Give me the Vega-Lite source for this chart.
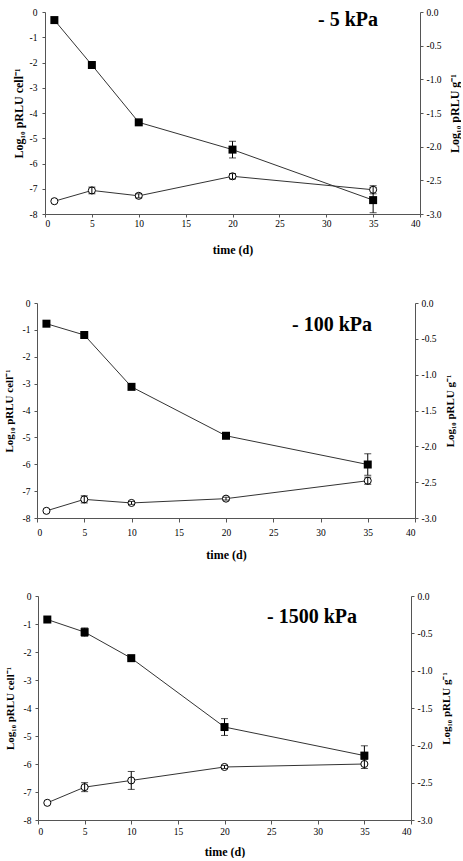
{
  "$schema": "https://vega.github.io/schema/vega-lite/v6.json",
  "background": "white",
  "padding": {"left": 3, "top": 7, "right": 0, "bottom": 0},
  "config": {
    "view": {"stroke": null},
    "axis": {
      "grid": false,
      "labelFont": "Liberation Serif",
      "labelFontSize": 9.5,
      "labelColor": "black",
      "titleFont": "Liberation Serif",
      "titleFontSize": 12,
      "titleFontWeight": "bold",
      "titleColor": "black",
      "domainColor": "#555",
      "tickColor": "#555",
      "tickSize": 3
    },
    "title": {"font": "Liberation Serif", "fontWeight": "bold", "fontSize": 20, "color": "black", "offset": 0, "baseline": "alphabetic", "orient": "top", "anchor": "end", "frame": "group"}
  },
  "datasets": {
    "p5": [
      {"t": 1, "cell": -0.32, "cellErr": 0, "g": -2.81, "gErr": 0},
      {"t": 5, "cell": -2.1, "cellErr": 0, "g": -2.65, "gErr": 0.05},
      {"t": 10, "cell": -4.37, "cellErr": 0.08, "g": -2.73, "gErr": 0.03},
      {"t": 20, "cell": -5.45, "cellErr": 0.33, "g": -2.44, "gErr": 0.04},
      {"t": 35, "cell": -7.45, "cellErr": 0.5, "g": -2.64, "gErr": 0.06}
    ],
    "p100": [
      {"t": 1, "cell": -0.77, "cellErr": 0, "g": -2.9, "gErr": 0},
      {"t": 5, "cell": -1.19, "cellErr": 0, "g": -2.74, "gErr": 0.05},
      {"t": 10, "cell": -3.12, "cellErr": 0, "g": -2.79, "gErr": 0.02},
      {"t": 20, "cell": -4.94, "cellErr": 0.1, "g": -2.73, "gErr": 0.02},
      {"t": 35, "cell": -6.01, "cellErr": 0.4, "g": -2.48, "gErr": 0.05}
    ],
    "p1500": [
      {"t": 1, "cell": -0.84, "cellErr": 0, "g": -2.77, "gErr": 0},
      {"t": 5, "cell": -1.29, "cellErr": 0.15, "g": -2.56, "gErr": 0.06},
      {"t": 10, "cell": -2.22, "cellErr": 0.03, "g": -2.47, "gErr": 0.12},
      {"t": 20, "cell": -4.68, "cellErr": 0.3, "g": -2.29, "gErr": 0.02},
      {"t": 35, "cell": -5.7, "cellErr": 0.35, "g": -2.25, "gErr": 0.06}
    ]
  },
  "vconcat": [
    {
      "width": 383, "height": 202,
      "data": {"name": "p5"},
      "title": {"text": "- 5 kPa", "dx": -42, "dy": 27},
      "encoding": {
        "x": {"field": "t", "type": "quantitative", "scale": {"domain": [0, 40], "nice": false, "range": [8, 383]},
          "axis": {"values": [0, 5, 10, 15, 20, 25, 30, 35, 40], "title": "time (d)", "labelPadding": 1, "titlePadding": 17}}
      },
      "layer": [
        {
          "layer": [
            {"mark": {"type": "line", "color": "#333", "strokeWidth": 1}},
            {"transform": [{"filter": "datum.cellErr > 0"}], "mark": {"type": "errorbar", "ticks": {"size": 7}, "color": "black", "thickness": 1}, "encoding": {"y": {"field": "cell", "type": "quantitative"}, "yError": {"field": "cellErr"}}},
            {"mark": {"type": "point", "shape": "square", "filled": true, "color": "black", "size": 64, "opacity": 1}}
          ],
          "encoding": {
            "y": {"field": "cell", "type": "quantitative", "scale": {"domain": [-8, 0], "nice": false},
              "axis": {"orient": "left", "offset": -8, "values": [-8, -7, -6, -5, -4, -3, -2, -1, 0], "labelExpr": "(datum.value < 0 ? '-' : '') + format(abs(datum.value), 'd')", "title": "Log₁₀ pRLU cell⁻¹", "labelPadding": 5, "titlePadding": 4}}
          }
        },
        {
          "layer": [
            {"mark": {"type": "line", "color": "#333", "strokeWidth": 1}},
            {"mark": {"type": "point", "shape": "circle", "filled": true, "fill": "white", "stroke": "black", "strokeWidth": 1, "size": 50, "opacity": 1}},
            {"transform": [{"filter": "datum.gErr > 0"}], "mark": {"type": "errorbar", "ticks": {"size": 7}, "color": "black", "thickness": 1}, "encoding": {"y": {"field": "g", "type": "quantitative"}, "yError": {"field": "gErr"}}}
          ],
          "encoding": {
            "y": {"field": "g", "type": "quantitative", "scale": {"domain": [-3, 0], "nice": false},
              "axis": {"orient": "right", "values": [-3, -2.5, -2, -1.5, -1, -0.5, 0], "labelExpr": "(datum.value < 0 ? '-' : '') + format(abs(datum.value), '.1f')", "title": "Log₁₀ pRLU g⁻¹", "titleAngle": 270, "titleBaseline": "top", "labelPadding": 3, "titlePadding": 8}}
          }
        }
      ],
      "resolve": {"scale": {"y": "independent"}}
    },
    {
      "vconcat": [
        {
          "width": 378, "height": 215,
          "data": {"name": "p100"},
          "title": {"text": "- 100 kPa", "dx": -43, "dy": 41},
          "encoding": {
            "x": {"field": "t", "type": "quantitative", "scale": {"domain": [0, 40], "nice": false},
              "axis": {"values": [0, 5, 10, 15, 20, 25, 30, 35, 40], "title": "time (d)", "tickSize": 4, "labelPadding": 5, "titlePadding": 13}}
          },
          "layer": [
            {
              "layer": [
                {"mark": {"type": "line", "color": "#333", "strokeWidth": 1}},
                {"transform": [{"filter": "datum.cellErr > 0"}], "mark": {"type": "errorbar", "ticks": {"size": 7}, "color": "black", "thickness": 1}, "encoding": {"y": {"field": "cell", "type": "quantitative"}, "yError": {"field": "cellErr"}}},
                {"mark": {"type": "point", "shape": "square", "filled": true, "color": "black", "size": 64, "opacity": 1}}
              ],
              "encoding": {
                "y": {"field": "cell", "type": "quantitative", "scale": {"domain": [-8, 0], "nice": false},
                  "axis": {"orient": "left", "values": [-8, -7, -6, -5, -4, -3, -2, -1, 0], "labelExpr": "(datum.value < 0 ? '-' : '') + format(abs(datum.value), 'd')", "title": "Log₁₀ pRLU cell⁻¹", "titleFontSize": 11, "labelPadding": 4, "titlePadding": 8}}
              }
            },
            {
              "layer": [
                {"mark": {"type": "line", "color": "#333", "strokeWidth": 1}},
                {"mark": {"type": "point", "shape": "circle", "filled": true, "fill": "white", "stroke": "black", "strokeWidth": 1, "size": 50, "opacity": 1}},
                {"transform": [{"filter": "datum.gErr > 0"}], "mark": {"type": "errorbar", "ticks": {"size": 7}, "color": "black", "thickness": 1}, "encoding": {"y": {"field": "g", "type": "quantitative"}, "yError": {"field": "gErr"}}}
              ],
              "encoding": {
                "y": {"field": "g", "type": "quantitative", "scale": {"domain": [-3, 0], "nice": false},
                  "axis": {"orient": "right", "values": [-3, -2.5, -2, -1.5, -1, -0.5, 0], "labelExpr": "(datum.value < 0 ? '-' : '') + format(abs(datum.value), '.1f')", "title": "Log₁₀ pRLU g⁻¹", "titleFontSize": 11, "titleAngle": 270, "titleBaseline": "top", "labelPadding": 3, "titlePadding": 8}}
              }
            }
          ],
          "resolve": {"scale": {"y": "independent"}}
        },
        {
          "width": 374, "height": 224,
          "data": {"name": "p1500"},
          "title": {"text": "- 1500 kPa", "dx": -54, "dy": 40},
          "encoding": {
            "x": {"field": "t", "type": "quantitative", "scale": {"domain": [0, 40], "nice": false, "range": [1, 374]},
              "axis": {"values": [0, 5, 10, 15, 20, 25, 30, 35, 40], "title": "time (d)", "tickSize": 4, "labelPadding": 2, "titlePadding": 11}}
          },
          "layer": [
            {
              "layer": [
                {"mark": {"type": "line", "color": "#333", "strokeWidth": 1}},
                {"transform": [{"filter": "datum.cellErr > 0"}], "mark": {"type": "errorbar", "ticks": {"size": 7}, "color": "black", "thickness": 1}, "encoding": {"y": {"field": "cell", "type": "quantitative"}, "yError": {"field": "cellErr"}}},
                {"mark": {"type": "point", "shape": "square", "filled": true, "color": "black", "size": 64, "opacity": 1}}
              ],
              "encoding": {
                "y": {"field": "cell", "type": "quantitative", "scale": {"domain": [-8, 0], "nice": false},
                  "axis": {"orient": "left", "offset": -1, "values": [-8, -7, -6, -5, -4, -3, -2, -1, 0], "labelExpr": "(datum.value < 0 ? '-' : '') + format(abs(datum.value), 'd')", "title": "Log₁₀ pRLU cell⁻¹", "titleFontSize": 11, "labelPadding": 4, "titlePadding": 8}}
              }
            },
            {
              "layer": [
                {"mark": {"type": "line", "color": "#333", "strokeWidth": 1}},
                {"mark": {"type": "point", "shape": "circle", "filled": true, "fill": "white", "stroke": "black", "strokeWidth": 1, "size": 50, "opacity": 1}},
                {"transform": [{"filter": "datum.gErr > 0"}], "mark": {"type": "errorbar", "ticks": {"size": 7}, "color": "black", "thickness": 1}, "encoding": {"y": {"field": "g", "type": "quantitative"}, "yError": {"field": "gErr"}}}
              ],
              "encoding": {
                "y": {"field": "g", "type": "quantitative", "scale": {"domain": [-3, 0], "nice": false},
                  "axis": {"orient": "right", "values": [-3, -2.5, -2, -1.5, -1, -0.5, 0], "labelExpr": "(datum.value < 0 ? '-' : '') + format(abs(datum.value), '.1f')", "title": "Log₁₀ pRLU g⁻¹", "titleFontSize": 11, "titleAngle": 270, "titleBaseline": "top", "labelPadding": 3, "titlePadding": 8}}
              }
            }
          ],
          "resolve": {"scale": {"y": "independent"}}
        }
      ],
      "spacing": 30
    }
  ],
  "spacing": 42
}
